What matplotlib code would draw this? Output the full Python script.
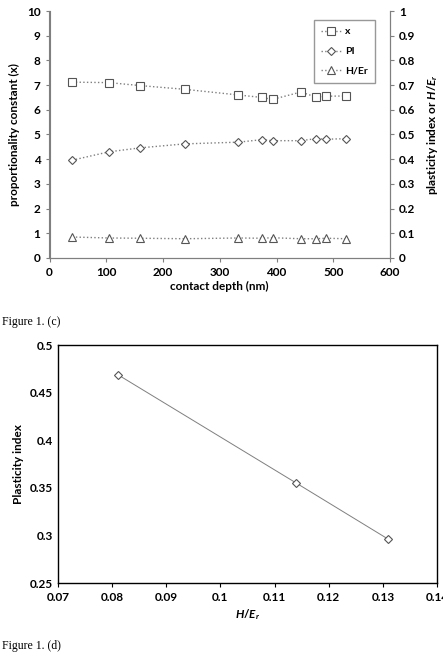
import numpy as np
import matplotlib.pyplot as plt

# figure 1(c) data
depth = [40, 105, 160, 238, 333, 374, 393, 443, 469, 488, 522]
x_const = [7.12, 7.10, 6.98, 6.83, 6.60, 6.50, 6.42, 6.72, 6.52, 6.55, 6.56]
pi_vals = [0.396, 0.430, 0.446, 0.462, 0.469, 0.479, 0.475, 0.475, 0.483, 0.481, 0.483]
h_er = [0.085, 0.081, 0.080, 0.078, 0.081, 0.080, 0.082, 0.078, 0.078, 0.080, 0.078]

# figure 1(d) data
h_er_d = [0.081, 0.114, 0.131]
pi_d = [0.469, 0.355, 0.296]

plt.rcParams['font.family'] = ['Lato', 'DejaVu Sans']
plt.rcParams['mathtext.fontset'] = 'custom'
plt.rcParams['mathtext.it'] = 'Lato:italic:bold'
plt.rcParams['mathtext.rm'] = 'Lato:bold'

fig = plt.figure(figsize=(4.43, 6.63), dpi=100)
grey = '#7f7f7f'
mcol = '#555555'

# --- top chart ---
ax = fig.add_axes([49.5/443, 405/663, 340.5/443, 247/663])
ax2 = ax.twinx()
l1, = ax.plot(depth, x_const, ls=':', color=grey, lw=1, marker='s', ms=6,
              mfc='white', mec=mcol, mew=0.8, label='x')
l2, = ax2.plot(depth, pi_vals, ls=':', color=grey, lw=1, marker='D', ms=4,
               mfc='white', mec=mcol, mew=0.8, label='PI')
l3, = ax2.plot(depth, h_er, ls=':', color=grey, lw=1, marker='^', ms=6,
               mfc='white', mec=mcol, mew=0.8, label='H/Er')
ax.set_xlim(0, 600)
ax.set_ylim(0, 10)
ax2.set_ylim(0, 1)
ax.set_xticks(np.arange(0, 601, 100))
ax.set_yticks(np.arange(0, 11, 1))
ax2.set_yticks(np.arange(0, 1.01, 0.1))
ax2.set_yticklabels(['0', '0.1', '0.2', '0.3', '0.4', '0.5', '0.6', '0.7', '0.8', '0.9', '1'])
for a in (ax, ax2):
    a.spines['top'].set_visible(False)
    for s in ('left', 'right', 'bottom'):
        a.spines[s].set_color(grey)
    a.tick_params(length=3, color=grey, labelsize=8.5)
    for t in a.get_xticklabels() + a.get_yticklabels():
        t.set_fontweight('bold')
ax.set_xlabel('contact depth (nm)', fontsize=8.5, fontweight='bold', labelpad=2)
ax.set_ylabel('proportionality constant (x)', fontsize=8.5, fontweight='bold', labelpad=5)
ax2.set_ylabel(r'plasticity index or $H/E_r$', fontsize=8.5, fontweight='bold', labelpad=7)
leg = ax2.legend(handles=[l1, l2, l3], loc='upper right', bbox_to_anchor=(0.956, 0.964),
                 fontsize=7.5, frameon=True, fancybox=False, borderpad=0.7,
                 labelspacing=1.0, handlelength=2.0, handletextpad=0.3,
                 borderaxespad=0)
leg.get_frame().set_edgecolor(grey)
for t in leg.get_texts():
    t.set_fontweight('bold')

fig.text(2/443, 1 - 322/663, 'Figure 1. (c)', family='Liberation Serif', fontsize=8.5, va='center')

# --- bottom chart ---
bx = fig.add_axes([58/443, 80/663, 379/443, 238/663])
bx.plot(h_er_d, pi_d, ls='-', color=grey, lw=0.7, marker='D', ms=4,
        mfc='white', mec=mcol, mew=0.8)
bx.set_xlim(0.07, 0.14)
bx.set_ylim(0.25, 0.5)
bx.set_xticks(np.arange(0.07, 0.1401, 0.01))
bx.set_xticklabels(['0.07', '0.08', '0.09', '0.1', '0.11', '0.12', '0.13', '0.14'])
bx.set_yticks(np.arange(0.25, 0.501, 0.05))
bx.set_yticklabels(['0.25', '0.3', '0.35', '0.4', '0.45', '0.5'])
for s in bx.spines.values():
    s.set_color('black')
    s.set_linewidth(1)
bx.tick_params(axis='x', length=3, labelsize=8.5)
bx.tick_params(axis='y', length=0, labelsize=8.5)
for t in bx.get_xticklabels() + bx.get_yticklabels():
    t.set_fontweight('bold')
bx.set_xlabel(r'$H/E_r$', fontsize=8.5, labelpad=3)
bx.set_ylabel('Plasticity index', fontsize=8.5, fontweight='bold', labelpad=4)

fig.text(2/443, 1 - 646/663, 'Figure 1. (d)', family='Liberation Serif', fontsize=8.5, va='center')

fig.savefig('out.png', dpi=100)
